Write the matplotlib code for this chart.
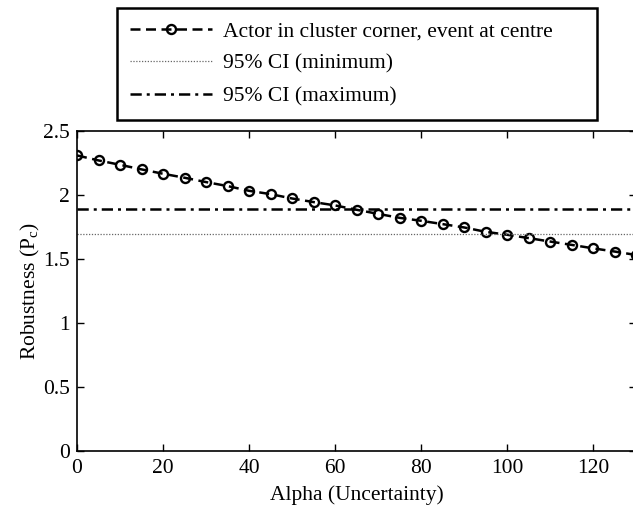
import matplotlib
matplotlib.use("Agg")
import matplotlib.pyplot as plt

# data
alpha = [0, 5, 10, 15, 20, 25, 30, 35, 40, 45, 50, 55, 60, 65,
         70, 75, 80, 85, 90, 95, 100, 105, 110, 115, 120, 125, 130]
robustness = [2.307, 2.268, 2.234, 2.198, 2.164, 2.133, 2.099, 2.068, 2.031,
              2.005, 1.971, 1.943, 1.917, 1.883, 1.851, 1.820, 1.797, 1.771,
              1.745, 1.711, 1.688, 1.662, 1.635, 1.609, 1.582, 1.557, 1.530]
ci_min = 1.697
ci_max = 1.888
x_ticks = [0, 20, 40, 60, 80, 100, 120]
y_ticks = [0, 0.5, 1, 1.5, 2, 2.5]
y_tick_labels = ["0", "0.5", "1", "1.5", "2", "2.5"]

fs = 15.5
plt.rcParams["font.family"] = ["Liberation Serif", "DejaVu Serif"]
plt.rcParams["mathtext.fontset"] = "custom"
plt.rcParams["mathtext.rm"] = "Liberation Serif"
plt.rcParams["font.size"] = fs

fig = plt.figure(figsize=(6.33, 5.11), dpi=100)
ax = fig.add_axes([77 / 633, 1 - 451 / 511, (636 - 77) / 633, (451 - 130.7) / 511])

ax.plot(alpha, robustness, color="black", linestyle=(0, (4, 2.2)), linewidth=1.8,
        marker="o", markersize=6.5, markerfacecolor="none", markeredgewidth=1.7,
        label="Actor in cluster corner, event at centre")
ax.axhline(ci_min, color="#666666", linestyle=(0, (1, 1.3)), linewidth=0.9,
           label="95% CI (minimum)")
ax.axhline(ci_max, color="black", linestyle=(0, (4.5, 2, 1.2, 2)), linewidth=1.8,
           label="95% CI (maximum)")

ax.set_xlim(0, 130)
ax.set_ylim(0, 2.5)
ax.set_xticks(x_ticks)
ax.set_yticks(y_ticks)
ax.set_yticklabels(y_tick_labels)
ax.tick_params(direction="in", length=5, width=1, top=True, right=True, labelsize=fs)
ax.tick_params(axis="x", pad=6)
ax.tick_params(axis="y", pad=5)
for s in ax.spines.values():
    s.set_linewidth(1.2)

ax.set_xlabel("Alpha (Uncertainty)", fontsize=fs, labelpad=5)
ax.set_ylabel(r"Robustness (P$_\mathrm{c}$)", fontsize=fs, labelpad=1)

leg = fig.legend(loc="upper left",
                 bbox_to_anchor=(117 / 633, 1 - 118 / 511, 480 / 633, 110 / 511),
                 mode="expand", frameon=True, fancybox=False, edgecolor="black",
                 framealpha=1, fontsize=fs, handlelength=3.8, handletextpad=0.5,
                 labelspacing=0.58, borderpad=0.62, borderaxespad=0)
leg.get_frame().set_linewidth(1.8)

fig.savefig("out.png", dpi=100)
